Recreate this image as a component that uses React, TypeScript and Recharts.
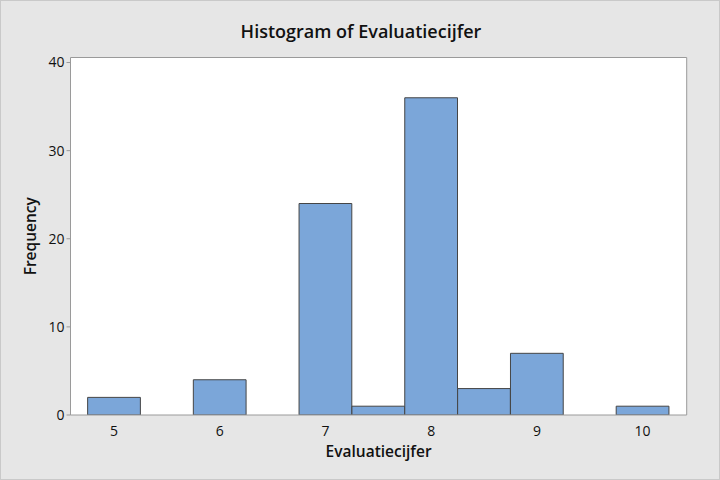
import React from "react";
import { ComposedChart, Bar, XAxis, YAxis, CartesianGrid } from "recharts";

// ================= Histogram data =================
const binMids = [5, 6, 7, 7.5, 8, 8.5, 9, 10];
const frequencies = [2, 4, 24, 1, 36, 3, 7, 1];
const xTicks = [5, 6, 7, 8, 9, 10];
const yTicks = [0, 10, 20, 30, 40];

const data = binMids.map((x, i) => ({ x, freq: frequencies[i] }));

const FONT = "'Open Sans', 'Noto Sans', sans-serif";
const XDOMAIN: [number, number] = [4.588, 10.417];
const YDOMAIN: [number, number] = [0, 40.57];

const App = () => {
  return (
    <div
      style={{
        position: "fixed",
        left: 0,
        top: 0,
        width: 720,
        height: 480,
        background: "#e6e6e6",
        boxSizing: "border-box",
        border: "1px solid #c9c9c9",
        fontFamily: FONT,
      }}
    >
      <div
        style={{
          position: "absolute",
          left: 0,
          top: 18,
          width: 720,
          textAlign: "center",
          fontSize: 18,
          fontWeight: 600,
          color: "#111",
        }}
      >
        Histogram of Evaluatiecijfer
      </div>
      <ComposedChart
        width={718}
        height={478}
        data={data}
        margin={{ top: 55.5, right: 31.3, bottom: 16, left: 11 }}
        style={{ position: "absolute", left: 0, top: 0 }}
      >
        <CartesianGrid horizontal={false} vertical={false} fill="#ffffff" />
        <XAxis
          type="number"
          dataKey="x"
          domain={XDOMAIN}
          ticks={xTicks}
          allowDataOverflow
          tickLine={false}
          axisLine={{ stroke: "#9a9a9a" }}
          height={48}
          tick={{ fill: "#111", fontSize: 14, fontFamily: FONT }}
          tickMargin={5}
          label={{
            value: "Evaluatiecijfer",
            position: "insideBottom",
            offset: 6,
            style: { fill: "#111", fontSize: 15.5, fontWeight: 600, fontFamily: FONT },
          }}
        />
        <XAxis
          xAxisId="top"
          orientation="top"
          type="number"
          dataKey="x"
          domain={XDOMAIN}
          allowDataOverflow
          tick={false}
          tickLine={false}
          height={1}
          axisLine={{ stroke: "#9a9a9a" }}
        />
        <YAxis
          domain={YDOMAIN}
          ticks={yTicks}
          allowDataOverflow
          width={58.5}
          tickSize={4}
          tickLine={{ stroke: "#9a9a9a" }}
          axisLine={{ stroke: "#9a9a9a" }}
          tick={{ fill: "#111", fontSize: 14, fontFamily: FONT }}
          label={{
            value: "Frequency",
            angle: -90,
            position: "insideLeft",
            offset: 18,
            style: { textAnchor: "middle", fill: "#111", fontSize: 15.5, fontWeight: 600, fontFamily: FONT },
          }}
        />
        <YAxis
          yAxisId="right"
          orientation="right"
          domain={YDOMAIN}
          allowDataOverflow
          tick={false}
          tickLine={false}
          width={1}
          axisLine={{ stroke: "#9a9a9a" }}
        />
        <Bar
          dataKey="freq"
          fill="#7ba6d9"
          stroke="#454545"
          strokeWidth={1}
          barSize={52.75}
          isAnimationActive={false}
        />
      </ComposedChart>
    </div>
  );
};

export default App;
